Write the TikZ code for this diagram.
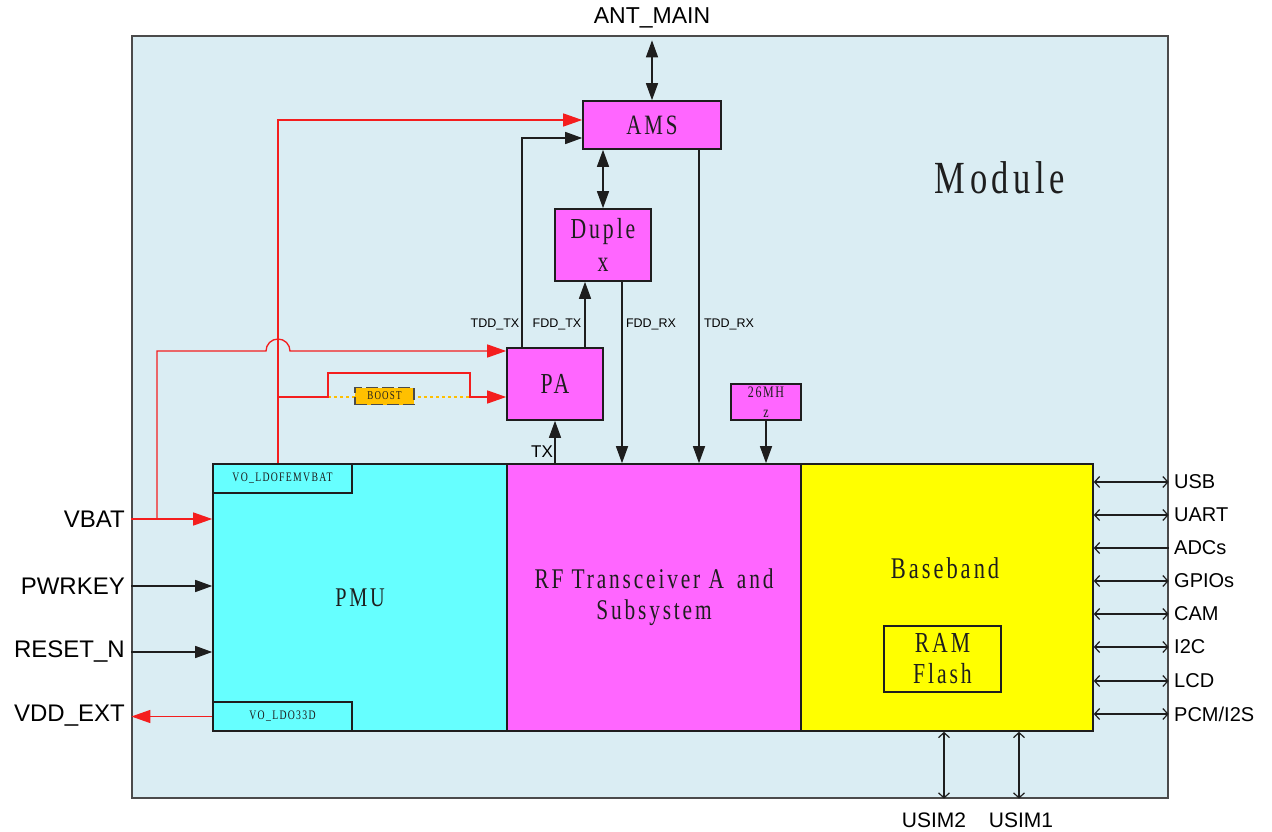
\documentclass[tikz,border=0pt]{standalone}
\usepackage{fontspec}
\setmainfont{Liberation Sans}
\newfontfamily\tn[FakeStretch=0.75,LetterSpace=10]{Liberation Serif}
\usetikzlibrary{arrows.meta}
\definecolor{bgblue}{HTML}{DAEDF3}
\definecolor{cyanb}{HTML}{66FFFF}
\definecolor{magb}{HTML}{FF66FF}
\definecolor{yelb}{HTML}{FFFF00}
\definecolor{boostc}{HTML}{FFC000}
\definecolor{redl}{HTML}{F41E1E}
\definecolor{edge}{HTML}{1E1E1E}
\begin{document}
\begin{tikzpicture}[x=1pt,y=-1pt,
  blk/.style={draw=edge, line width=1.6pt, inner sep=0pt, align=center, text=edge},
  lbl/.style={inner sep=2pt, text=black},
  barr/.style={draw=edge, line width=1.4pt, -{Triangle[length=17pt,width=12pt]}},
  bdbl/.style={draw=edge, line width=1.4pt, {Triangle[length=17pt,width=12pt]}-{Triangle[length=17pt,width=12pt]}},
  rarr/.style={draw=redl, line width=1.3pt, -{Triangle[length=19pt,width=13pt]}, color=redl},
  odbl/.style={draw=edge, line width=1.2pt, {Straight Barb[length=5pt,width=11pt]}-{Straight Barb[length=5pt,width=11pt]}},
  oarr/.style={draw=edge, line width=1.2pt, {Straight Barb[length=5pt,width=11pt]}-}
]
\useasboundingbox (0,0) rectangle (1272,832);
\fill[white] (0,0) rectangle (1272,832);

% module frame
\node[blk, draw=edge!80, line width=1.3pt, fill=bgblue, minimum width=1036pt, minimum height=762pt] (module) at (650,417) {};
\node[font={\tn\fontsize{46}{50}\selectfont}, text=edge] (modlabel) at (1000,178) {Module};
\node[lbl, font=\fontsize{23}{26}\selectfont] (antmain) at (652,18) {ANT\_MAIN};

% RF front-end blocks
\node[blk, fill=magb, minimum width=138pt, minimum height=48pt, font={\tn\fontsize{28}{32}\selectfont}] (ams) at (652,125) {AMS};
\node[blk, fill=magb, minimum width=96pt, minimum height=72pt, font={\tn\fontsize{29}{33}\selectfont}] (dup) at (603,245) {Duple\\x};
\node[blk, fill=magb, minimum width=96pt, minimum height=72pt, font={\tn\fontsize{29}{32}\selectfont}] (pa) at (555,384) {PA};
\node[blk, fill=magb, line width=1.4pt, minimum width=70pt, minimum height=36pt, font={\tn\fontsize{16}{20}\selectfont}] (xtal) at (766,402) {26MH\\z};

% main blocks
\node[blk, fill=cyanb, minimum width=294pt, minimum height=267pt, font={\tn\fontsize{27}{30}\selectfont}] (pmu) at (360,597.5) {PMU};
\node[blk, fill=magb, minimum width=294pt, minimum height=267pt, font={\tn\fontsize{28.5}{31}\selectfont}] (rf) at (654,597.5) {RF Transceiver A\, and\\Subsystem};
\node[blk, fill=yelb, minimum width=292pt, minimum height=267pt] (bb) at (947,597.5) {};
\node[font={\tn\fontsize{30}{32}\selectfont}, text=edge] (bbtext) at (945,568) {Baseband};
\node[blk, minimum width=117pt, minimum height=66pt, font={\tn\fontsize{29}{31}\selectfont}] (ram) at (942.5,659) {RAM\\Flash};
\node[blk, fill=cyanb, minimum width=139pt, minimum height=29pt, font={\tn\fontsize{13}{14}\selectfont}] (ldofem) at (282.5,478.5) {VO\_LDOFEMVBAT};
\node[blk, fill=cyanb, minimum width=139pt, minimum height=29pt, font={\tn\fontsize{13}{14}\selectfont}] (ldo33) at (282.5,716.5) {VO\_LDO33D};

% antenna
\draw[bdbl, shorten >=5pt] (ams.north) -- (ams.north |- module.north);
\draw[bdbl] (dup.north) -- (dup.north |- ams.south);

% RF paths
\node[lbl, font=\fontsize{12.5}{14}\selectfont] (tddtx) at (495,324) {TDD\_TX};
\node[lbl, font=\fontsize{12.5}{14}\selectfont] (fddtx) at (557,324) {FDD\_TX};
\node[lbl, font=\fontsize{12.5}{14}\selectfont] (fddrx) at (651,324) {FDD\_RX};
\node[lbl, font=\fontsize{12.5}{14}\selectfont] (tddrx) at (729,324) {TDD\_RX};
\node[lbl, font=\fontsize{17}{19}\selectfont] (txl) at (542,452) {TX};
\draw[barr] ([xshift=-33pt]pa.north) |- ([yshift=-13pt]ams.west);
\draw[barr] ([xshift=30pt]pa.north) -- ([xshift=30pt]pa.north |- dup.south);
\draw[barr] ([xshift=19pt]dup.south) -- ([xshift=19pt]dup.south |- rf.north);
\draw[barr] ([xshift=47pt]ams.south) -- ([xshift=47pt]ams.south |- rf.north);
\draw[barr] (pa.south |- rf.north) -- (pa.south);
\draw[barr] (xtal.south) -- (xtal.south |- rf.north);

% power (red)
\node[lbl, anchor=east, font=\fontsize{24}{27}\selectfont] (vbat) at (127,519) {VBAT};
\node[lbl, anchor=east, font=\fontsize{24}{27}\selectfont] (pwrkey) at (127,586) {PWRKEY};
\node[lbl, anchor=east, font=\fontsize{24}{27}\selectfont] (resetn) at (127,652) {RESET\_N};
\node[lbl, anchor=east, font=\fontsize{24}{27}\selectfont] (vddext) at (127,716) {VDD\_EXT};

\draw[rarr] (module.west |- vbat) -- (pmu.west |- vbat);
\draw[rarr] (157,519) |- (266,351) arc[start angle=180,end angle=0,radius=12pt] -- ([yshift=33pt]pa.west);
\draw[rarr] ([xshift=-4.5pt]ldofem.north) |- ([yshift=5pt]ams.west);
\draw[boostc, line width=1.2pt, dash pattern=on 3pt off 3pt] (328,397) -- (470,397);
\draw[rarr] (278,397) -- (328,397) -- (328,373) -- (470,373) -- (470,397) -- ([yshift=-13pt]pa.west);
\node[fill=boostc, draw=edge!80, line width=1.3pt, dash pattern=on 12pt off 4pt, minimum width=59pt, minimum height=17pt, inner sep=0pt, text=edge, font={\tn\fontsize{12}{13}\selectfont}] (boost) at (384.5,396) {BOOST};
\draw[rarr] (ldo33.west) -- (module.west |- ldo33);

\draw[barr] (module.west |- pwrkey) -- (pmu.west |- pwrkey);
\draw[barr] (module.west |- resetn) -- (pmu.west |- resetn);

% baseband interfaces
\foreach \nm/\txt/\yy in {usb/USB/482, uart/UART/515, adc/ADCs/548, gpio/GPIOs/581, cam/CAM/614, iic/I2C/647, lcd/LCD/681, pcm/PCM\slash I2S/714}{
  \node[lbl, anchor=west, font=\fontsize{20}{22}\selectfont] (\nm) at (1172,\yy) {\txt};
}
\draw[odbl] (bb.east |- usb) -- (module.east |- usb);
\draw[odbl] (bb.east |- uart) -- (module.east |- uart);
\draw[oarr] (bb.east |- adc) -- (module.east |- adc);
\draw[odbl] (bb.east |- gpio) -- (module.east |- gpio);
\draw[odbl] (bb.east |- cam) -- (module.east |- cam);
\draw[odbl] (bb.east |- iic) -- (module.east |- iic);
\draw[odbl] (bb.east |- lcd) -- (module.east |- lcd);
\draw[odbl] (bb.east |- pcm) -- (module.east |- pcm);

\node[lbl, font=\fontsize{21}{23}\selectfont] (usim2) at (934,820) {USIM2};
\node[lbl, font=\fontsize{21}{23}\selectfont] (usim1) at (1021,820) {USIM1};
\coordinate (u2) at (944,0);
\coordinate (u1) at (1019,0);
\draw[odbl] (bb.south -| u2) -- (module.south -| u2);
\draw[odbl] (bb.south -| u1) -- (module.south -| u1);
\end{tikzpicture}
\end{document}
